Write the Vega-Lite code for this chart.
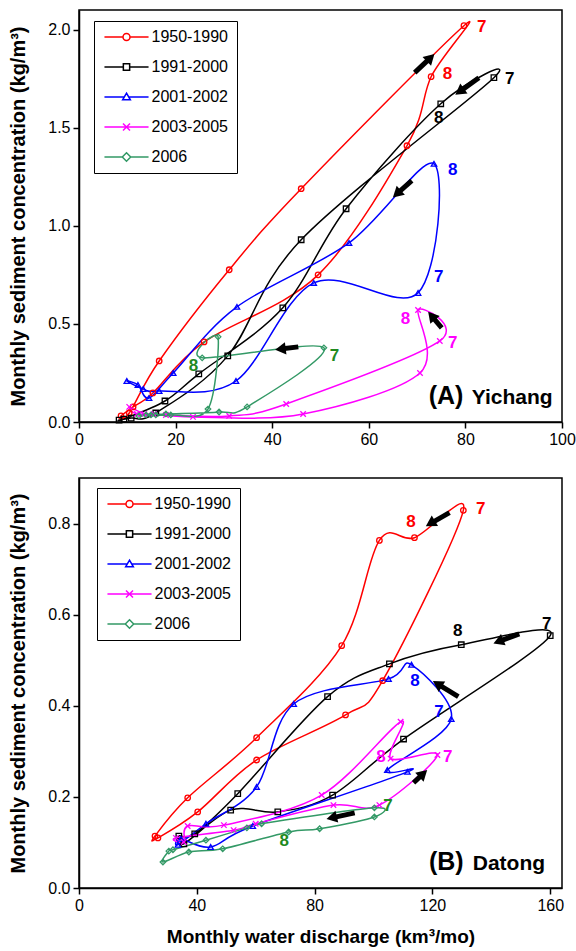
{
  "$schema": "https://vega.github.io/schema/vega-lite/v6.json",
  "padding": {"left": 8, "top": 9, "right": 0, "bottom": 0},
  "spacing": 29,
  "config": {
    "font": "Liberation Sans",
    "view": {"stroke": "black", "strokeWidth": 1.5},
    "axis": {"domainColor": "black", "domainWidth": 1.5, "tickColor": "black", "tickWidth": 1.5, "tickSize": 6, "labelColor": "black", "labelFontSize": 16, "labelFont": "Liberation Sans", "titleFont": "Liberation Sans", "titleFontSize": 20, "titleFontWeight": "bold", "titleColor": "black", "grid": false, "labelPadding": 3, "labelFlush": false, "labelOverlap": false}
  },
  "datasets": {
    "series": [
      {"station": "A", "period": "1950-1990", "month": 1, "discharge": 11.2, "concentration": 0.077},
      {"station": "A", "period": "1950-1990", "month": 2, "discharge": 8.7, "concentration": 0.031},
      {"station": "A", "period": "1950-1990", "month": 3, "discharge": 10.4, "concentration": 0.046},
      {"station": "A", "period": "1950-1990", "month": 4, "discharge": 16.6, "concentration": 0.311},
      {"station": "A", "period": "1950-1990", "month": 5, "discharge": 31.1, "concentration": 0.776},
      {"station": "A", "period": "1950-1990", "month": 6, "discharge": 46.0, "concentration": 1.189},
      {"station": "A", "period": "1950-1990", "month": 7, "discharge": 79.7, "concentration": 2.02},
      {"station": "A", "period": "1950-1990", "month": 8, "discharge": 72.9, "concentration": 1.76},
      {"station": "A", "period": "1950-1990", "month": 9, "discharge": 67.9, "concentration": 1.408},
      {"station": "A", "period": "1950-1990", "month": 10, "discharge": 49.5, "concentration": 0.75},
      {"station": "A", "period": "1950-1990", "month": 11, "discharge": 25.9, "concentration": 0.408},
      {"station": "A", "period": "1950-1990", "month": 12, "discharge": 15.3, "concentration": 0.148},
      {"station": "A", "period": "1991-2000", "month": 1, "discharge": 9.3, "concentration": 0.015},
      {"station": "A", "period": "1991-2000", "month": 2, "discharge": 8.3, "concentration": 0.01},
      {"station": "A", "period": "1991-2000", "month": 3, "discharge": 10.8, "concentration": 0.02},
      {"station": "A", "period": "1991-2000", "month": 4, "discharge": 15.9, "concentration": 0.046},
      {"station": "A", "period": "1991-2000", "month": 5, "discharge": 30.8, "concentration": 0.337},
      {"station": "A", "period": "1991-2000", "month": 6, "discharge": 46.0, "concentration": 0.929},
      {"station": "A", "period": "1991-2000", "month": 7, "discharge": 85.9, "concentration": 1.755},
      {"station": "A", "period": "1991-2000", "month": 8, "discharge": 74.9, "concentration": 1.622},
      {"station": "A", "period": "1991-2000", "month": 9, "discharge": 55.3, "concentration": 1.087},
      {"station": "A", "period": "1991-2000", "month": 10, "discharge": 42.2, "concentration": 0.582},
      {"station": "A", "period": "1991-2000", "month": 11, "discharge": 24.8, "concentration": 0.245},
      {"station": "A", "period": "1991-2000", "month": 12, "discharge": 17.8, "concentration": 0.107},
      {"station": "A", "period": "2001-2002", "month": 1, "discharge": 12.2, "concentration": 0.189},
      {"station": "A", "period": "2001-2002", "month": 2, "discharge": 9.9, "concentration": 0.209},
      {"station": "A", "period": "2001-2002", "month": 3, "discharge": 13.3, "concentration": 0.168},
      {"station": "A", "period": "2001-2002", "month": 4, "discharge": 16.6, "concentration": 0.158},
      {"station": "A", "period": "2001-2002", "month": 5, "discharge": 32.5, "concentration": 0.209},
      {"station": "A", "period": "2001-2002", "month": 6, "discharge": 48.6, "concentration": 0.709},
      {"station": "A", "period": "2001-2002", "month": 7, "discharge": 70.2, "concentration": 0.658},
      {"station": "A", "period": "2001-2002", "month": 8, "discharge": 73.5, "concentration": 1.316},
      {"station": "A", "period": "2001-2002", "month": 9, "discharge": 55.9, "concentration": 0.913},
      {"station": "A", "period": "2001-2002", "month": 10, "discharge": 32.7, "concentration": 0.587},
      {"station": "A", "period": "2001-2002", "month": 11, "discharge": 19.5, "concentration": 0.25},
      {"station": "A", "period": "2001-2002", "month": 12, "discharge": 14.5, "concentration": 0.122},
      {"station": "A", "period": "2003-2005", "month": 1, "discharge": 13.5, "concentration": 0.041},
      {"station": "A", "period": "2003-2005", "month": 2, "discharge": 10.4, "concentration": 0.077},
      {"station": "A", "period": "2003-2005", "month": 3, "discharge": 12.0, "concentration": 0.041},
      {"station": "A", "period": "2003-2005", "month": 4, "discharge": 18.0, "concentration": 0.036},
      {"station": "A", "period": "2003-2005", "month": 5, "discharge": 31.1, "concentration": 0.031},
      {"station": "A", "period": "2003-2005", "month": 6, "discharge": 42.9, "concentration": 0.092},
      {"station": "A", "period": "2003-2005", "month": 7, "discharge": 74.7, "concentration": 0.413},
      {"station": "A", "period": "2003-2005", "month": 8, "discharge": 70.2, "concentration": 0.571},
      {"station": "A", "period": "2003-2005", "month": 9, "discharge": 70.6, "concentration": 0.25},
      {"station": "A", "period": "2003-2005", "month": 10, "discharge": 46.4, "concentration": 0.041},
      {"station": "A", "period": "2003-2005", "month": 11, "discharge": 23.6, "concentration": 0.026},
      {"station": "A", "period": "2003-2005", "month": 12, "discharge": 15.5, "concentration": 0.041},
      {"station": "A", "period": "2006", "month": 1, "discharge": 13.9, "concentration": 0.036},
      {"station": "A", "period": "2006", "month": 2, "discharge": 12.4, "concentration": 0.031},
      {"station": "A", "period": "2006", "month": 3, "discharge": 14.9, "concentration": 0.036},
      {"station": "A", "period": "2006", "month": 4, "discharge": 18.0, "concentration": 0.041},
      {"station": "A", "period": "2006", "month": 5, "discharge": 29.0, "concentration": 0.051},
      {"station": "A", "period": "2006", "month": 6, "discharge": 34.8, "concentration": 0.077},
      {"station": "A", "period": "2006", "month": 7, "discharge": 50.7, "concentration": 0.378},
      {"station": "A", "period": "2006", "month": 8, "discharge": 25.5, "concentration": 0.327},
      {"station": "A", "period": "2006", "month": 9, "discharge": 28.8, "concentration": 0.434},
      {"station": "A", "period": "2006", "month": 10, "discharge": 26.7, "concentration": 0.066},
      {"station": "A", "period": "2006", "month": 11, "discharge": 19.0, "concentration": 0.036},
      {"station": "A", "period": "2006", "month": 12, "discharge": 15.9, "concentration": 0.036},
      {"station": "B", "period": "1950-1990", "month": 1, "discharge": 25.8, "concentration": 0.114},
      {"station": "B", "period": "1950-1990", "month": 2, "discharge": 26.8, "concentration": 0.11},
      {"station": "B", "period": "1950-1990", "month": 3, "discharge": 40.3, "concentration": 0.167},
      {"station": "B", "period": "1950-1990", "month": 4, "discharge": 60.3, "concentration": 0.281},
      {"station": "B", "period": "1950-1990", "month": 5, "discharge": 90.5, "concentration": 0.38},
      {"station": "B", "period": "1950-1990", "month": 6, "discharge": 103.1, "concentration": 0.455},
      {"station": "B", "period": "1950-1990", "month": 7, "discharge": 130.5, "concentration": 0.829},
      {"station": "B", "period": "1950-1990", "month": 8, "discharge": 113.9, "concentration": 0.769},
      {"station": "B", "period": "1950-1990", "month": 9, "discharge": 102.0, "concentration": 0.763},
      {"station": "B", "period": "1950-1990", "month": 10, "discharge": 89.2, "concentration": 0.532},
      {"station": "B", "period": "1950-1990", "month": 11, "discharge": 60.3, "concentration": 0.33},
      {"station": "B", "period": "1950-1990", "month": 12, "discharge": 36.9, "concentration": 0.198},
      {"station": "B", "period": "1991-2000", "month": 1, "discharge": 33.9, "concentration": 0.114},
      {"station": "B", "period": "1991-2000", "month": 2, "discharge": 35.6, "concentration": 0.097},
      {"station": "B", "period": "1991-2000", "month": 3, "discharge": 51.5, "concentration": 0.171},
      {"station": "B", "period": "1991-2000", "month": 4, "discharge": 67.5, "concentration": 0.167},
      {"station": "B", "period": "1991-2000", "month": 5, "discharge": 86.1, "concentration": 0.204},
      {"station": "B", "period": "1991-2000", "month": 6, "discharge": 110.2, "concentration": 0.327},
      {"station": "B", "period": "1991-2000", "month": 7, "discharge": 160.0, "concentration": 0.554},
      {"station": "B", "period": "1991-2000", "month": 8, "discharge": 129.8, "concentration": 0.534},
      {"station": "B", "period": "1991-2000", "month": 9, "discharge": 105.4, "concentration": 0.492},
      {"station": "B", "period": "1991-2000", "month": 10, "discharge": 84.4, "concentration": 0.42},
      {"station": "B", "period": "1991-2000", "month": 11, "discharge": 53.9, "concentration": 0.207},
      {"station": "B", "period": "1991-2000", "month": 12, "discharge": 39.3, "concentration": 0.119},
      {"station": "B", "period": "2001-2002", "month": 1, "discharge": 33.6, "concentration": 0.095},
      {"station": "B", "period": "2001-2002", "month": 2, "discharge": 34.6, "concentration": 0.108},
      {"station": "B", "period": "2001-2002", "month": 3, "discharge": 44.7, "concentration": 0.09},
      {"station": "B", "period": "2001-2002", "month": 4, "discharge": 59.0, "concentration": 0.136},
      {"station": "B", "period": "2001-2002", "month": 5, "discharge": 111.5, "concentration": 0.255},
      {"station": "B", "period": "2001-2002", "month": 6, "discharge": 104.7, "concentration": 0.259},
      {"station": "B", "period": "2001-2002", "month": 7, "discharge": 126.4, "concentration": 0.371},
      {"station": "B", "period": "2001-2002", "month": 8, "discharge": 112.9, "concentration": 0.49},
      {"station": "B", "period": "2001-2002", "month": 9, "discharge": 105.1, "concentration": 0.459},
      {"station": "B", "period": "2001-2002", "month": 10, "discharge": 72.9, "concentration": 0.404},
      {"station": "B", "period": "2001-2002", "month": 11, "discharge": 60.3, "concentration": 0.222},
      {"station": "B", "period": "2001-2002", "month": 12, "discharge": 43.1, "concentration": 0.141},
      {"station": "B", "period": "2003-2005", "month": 1, "discharge": 35.6, "concentration": 0.101},
      {"station": "B", "period": "2003-2005", "month": 2, "discharge": 32.9, "concentration": 0.11},
      {"station": "B", "period": "2003-2005", "month": 3, "discharge": 52.5, "concentration": 0.127},
      {"station": "B", "period": "2003-2005", "month": 4, "discharge": 60.0, "concentration": 0.141},
      {"station": "B", "period": "2003-2005", "month": 5, "discharge": 86.4, "concentration": 0.182},
      {"station": "B", "period": "2003-2005", "month": 6, "discharge": 102.0, "concentration": 0.182},
      {"station": "B", "period": "2003-2005", "month": 7, "discharge": 121.7, "concentration": 0.292},
      {"station": "B", "period": "2003-2005", "month": 8, "discharge": 105.8, "concentration": 0.284},
      {"station": "B", "period": "2003-2005", "month": 9, "discharge": 109.2, "concentration": 0.365},
      {"station": "B", "period": "2003-2005", "month": 10, "discharge": 82.4, "concentration": 0.204},
      {"station": "B", "period": "2003-2005", "month": 11, "discharge": 49.2, "concentration": 0.138},
      {"station": "B", "period": "2003-2005", "month": 12, "discharge": 36.9, "concentration": 0.136},
      {"station": "B", "period": "2006", "month": 1, "discharge": 30.5, "concentration": 0.081},
      {"station": "B", "period": "2006", "month": 2, "discharge": 28.5, "concentration": 0.057},
      {"station": "B", "period": "2006", "month": 3, "discharge": 37.3, "concentration": 0.079},
      {"station": "B", "period": "2006", "month": 4, "discharge": 48.8, "concentration": 0.086},
      {"station": "B", "period": "2006", "month": 5, "discharge": 71.2, "concentration": 0.123},
      {"station": "B", "period": "2006", "month": 6, "discharge": 81.7, "concentration": 0.13},
      {"station": "B", "period": "2006", "month": 7, "discharge": 100.3, "concentration": 0.156},
      {"station": "B", "period": "2006", "month": 8, "discharge": 100.3, "concentration": 0.176},
      {"station": "B", "period": "2006", "month": 9, "discharge": 62.0, "concentration": 0.141},
      {"station": "B", "period": "2006", "month": 10, "discharge": 57.0, "concentration": 0.132},
      {"station": "B", "period": "2006", "month": 11, "discharge": 43.1, "concentration": 0.105},
      {"station": "B", "period": "2006", "month": 12, "discharge": 31.9, "concentration": 0.084}
    ],
    "months": [
      {"station": "A", "period": "1950-1990", "text": "7", "discharge": 83.4, "concentration": 2.015},
      {"station": "A", "period": "1950-1990", "text": "8", "discharge": 76.3, "concentration": 1.776},
      {"station": "A", "period": "1991-2000", "text": "7", "discharge": 89.2, "concentration": 1.75},
      {"station": "A", "period": "1991-2000", "text": "8", "discharge": 74.5, "concentration": 1.551},
      {"station": "A", "period": "2001-2002", "text": "8", "discharge": 77.4, "concentration": 1.286},
      {"station": "A", "period": "2001-2002", "text": "7", "discharge": 74.5, "concentration": 0.74},
      {"station": "A", "period": "2003-2005", "text": "8", "discharge": 67.6, "concentration": 0.526},
      {"station": "A", "period": "2003-2005", "text": "7", "discharge": 77.4, "concentration": 0.403},
      {"station": "A", "period": "2006", "text": "7", "discharge": 52.9, "concentration": 0.337},
      {"station": "A", "period": "2006", "text": "8", "discharge": 23.7, "concentration": 0.286},
      {"station": "B", "period": "1950-1990", "text": "7", "discharge": 136.4, "concentration": 0.831},
      {"station": "B", "period": "1950-1990", "text": "8", "discharge": 112.7, "concentration": 0.804},
      {"station": "B", "period": "1991-2000", "text": "7", "discharge": 158.8, "concentration": 0.58},
      {"station": "B", "period": "1991-2000", "text": "8", "discharge": 128.6, "concentration": 0.565},
      {"station": "B", "period": "2001-2002", "text": "8", "discharge": 114.1, "concentration": 0.455},
      {"station": "B", "period": "2001-2002", "text": "7", "discharge": 122.2, "concentration": 0.387},
      {"station": "B", "period": "2003-2005", "text": "8", "discharge": 102.5, "concentration": 0.288},
      {"station": "B", "period": "2003-2005", "text": "7", "discharge": 125.2, "concentration": 0.288},
      {"station": "B", "period": "2006", "text": "7", "discharge": 104.9, "concentration": 0.18},
      {"station": "B", "period": "2006", "text": "8", "discharge": 69.7, "concentration": 0.103}
    ],
    "arrows": [
      {"station": "A", "discharge": 69.5, "concentration": 1.781, "discharge2": 72.8, "concentration2": 1.857, "angle": -44},
      {"station": "A", "discharge": 82.8, "concentration": 1.755, "discharge2": 78.8, "concentration2": 1.684, "angle": 144},
      {"station": "A", "discharge": 68.9, "concentration": 1.23, "discharge2": 65.8, "concentration2": 1.163, "angle": 138},
      {"station": "A", "discharge": 45.4, "concentration": 0.383, "discharge2": 41.7, "concentration2": 0.372, "angle": 173},
      {"station": "A", "discharge": 75.1, "concentration": 0.48, "discharge2": 73.0, "concentration2": 0.541, "angle": 230},
      {"station": "B", "discharge": 125.8, "concentration": 0.824, "discharge2": 119.3, "concentration2": 0.8, "angle": 149},
      {"station": "B", "discharge": 149.5, "concentration": 0.558, "discharge2": 142.4, "concentration2": 0.541, "angle": 158},
      {"station": "B", "discharge": 128.8, "concentration": 0.42, "discharge2": 121.7, "concentration2": 0.448, "angle": 212},
      {"station": "B", "discharge": 113.6, "concentration": 0.231, "discharge2": 116.9, "concentration2": 0.251, "angle": -43},
      {"station": "B", "discharge": 93.6, "concentration": 0.165, "discharge2": 85.8, "concentration2": 0.154, "angle": 167}
    ],
    "panels": [
      {"station": "A", "part": "tag", "text": "(A)", "discharge": 72.4, "concentration": 0.092},
      {"station": "A", "part": "name", "text": "Yichang", "discharge": 81.3, "concentration": 0.092},
      {"station": "B", "part": "tag", "text": "(B)", "discharge": 118.8, "concentration": 0.04},
      {"station": "B", "part": "name", "text": "Datong", "discharge": 133.7, "concentration": 0.04}
    ],
    "periods": [
      {"period": "1950-1990"}, {"period": "1991-2000"}, {"period": "2001-2002"}, {"period": "2003-2005"}, {"period": "2006"}
    ]
  },
  "vconcat": [
    {
      "width": 483,
      "height": 412,
      "resolve": {"scale": {"color": "independent", "shape": "independent", "size": "independent"}},
      "layer": [
        {
          "data": {"name": "series"},
          "transform": [{"filter": "datum.station === 'A'"}],
          "mark": {"type": "line", "interpolate": "cardinal-closed", "strokeWidth": 1.5},
          "encoding": {
            "x": {"field": "discharge", "type": "quantitative", "scale": {"domain": [0, 100], "nice": false, "zero": false}, "axis": {"values": [0, 20, 40, 60, 80, 100], "title": null}},
            "y": {"field": "concentration", "type": "quantitative", "scale": {"domain": [0, 2.1], "nice": false}, "axis": {"values": [0, 0.5, 1, 1.5, 2], "format": ".1f", "title": "Monthly sediment concentration (kg/m³)", "titlePadding": 19}},
            "color": {"field": "period", "type": "nominal", "scale": {"domain": ["1950-1990", "1991-2000", "2001-2002", "2003-2005", "2006"], "range": ["#ff0000", "#000000", "#0000ff", "#ff00ff", "#339966"]}, "legend": null},
            "order": {"field": "month", "type": "quantitative"}
          }
        },
        {
          "data": {"name": "series"},
          "transform": [{"filter": "datum.station === 'A'"}],
          "mark": {"type": "point", "filled": false, "strokeWidth": 1.3, "opacity": 1},
          "encoding": {
            "x": {"field": "discharge", "type": "quantitative"},
            "y": {"field": "concentration", "type": "quantitative"},
            "color": {"field": "period", "type": "nominal", "scale": {"domain": ["1950-1990", "1991-2000", "2001-2002", "2003-2005", "2006"], "range": ["#ff0000", "#000000", "#0000ff", "#ff00ff", "#339966"]}, "legend": null},
            "shape": {"field": "period", "type": "nominal", "scale": {"domain": ["1950-1990", "1991-2000", "2001-2002", "2003-2005", "2006"], "range": ["circle", "square", "triangle-up", "M-1,-1L1,1M-1,1L1,-1", "diamond"]}, "legend": null},
            "size": {"field": "period", "type": "ordinal", "scale": {"domain": ["1950-1990", "1991-2000", "2001-2002", "2003-2005", "2006"], "range": [30, 30, 45, 45, 55]}, "legend": null}
          }
        },
        {
          "data": {"name": "months"},
          "transform": [{"filter": "datum.station === 'A'"}],
          "mark": {"type": "text", "fontSize": 17, "fontWeight": "bold", "align": "center", "baseline": "middle"},
          "encoding": {
            "x": {"field": "discharge", "type": "quantitative"},
            "y": {"field": "concentration", "type": "quantitative"},
            "text": {"field": "text"},
            "color": {"field": "period", "type": "nominal", "scale": {"domain": ["1950-1990", "1991-2000", "2001-2002", "2003-2005", "2006"], "range": ["#ff0000", "#000000", "#0000ff", "#ff00ff", "#1f8a1f"]}, "legend": null}
          }
        },
        {
          "data": {"name": "arrows"},
          "transform": [{"filter": "datum.station === 'A'"}],
          "mark": {"type": "rule", "strokeWidth": 5, "color": "black"},
          "encoding": {
            "x": {"field": "discharge", "type": "quantitative"},
            "y": {"field": "concentration", "type": "quantitative"},
            "x2": {"field": "discharge2"},
            "y2": {"field": "concentration2"}
          }
        },
        {
          "data": {"name": "arrows"},
          "transform": [{"filter": "datum.station === 'A'"}],
          "mark": {"type": "point", "shape": "triangle-right", "filled": true, "color": "black", "size": 150, "opacity": 1},
          "encoding": {
            "x": {"field": "discharge2", "type": "quantitative"},
            "y": {"field": "concentration2", "type": "quantitative"},
            "angle": {"field": "angle", "type": "quantitative", "scale": null}
          }
        },
        {
          "data": {"name": "panels"},
          "transform": [{"filter": "datum.station === 'A' && datum.part === 'tag'"}],
          "mark": {"type": "text", "fontSize": 25, "fontWeight": "bold", "align": "left", "baseline": "alphabetic", "color": "black"},
          "encoding": {
            "x": {"field": "discharge", "type": "quantitative"},
            "y": {"field": "concentration", "type": "quantitative"},
            "text": {"field": "text"}
          }
        },
        {
          "data": {"name": "panels"},
          "transform": [{"filter": "datum.station === 'A' && datum.part === 'name'"}],
          "mark": {"type": "text", "fontSize": 21, "fontWeight": "bold", "align": "left", "baseline": "alphabetic", "color": "black"},
          "encoding": {
            "x": {"field": "discharge", "type": "quantitative"},
            "y": {"field": "concentration", "type": "quantitative"},
            "text": {"field": "text"}
          }
        },
        {
          "data": {"name": "periods"},
          "mark": {"type": "point", "filled": false, "strokeWidth": 1.5, "opacity": 1, "size": 49, "clip": true},
          "encoding": {
            "x": {"datum": -500, "type": "quantitative"},
            "y": {"datum": -5, "type": "quantitative"},
            "color": {"field": "period", "type": "nominal", "scale": {"domain": ["1950-1990", "1991-2000", "2001-2002", "2003-2005", "2006"], "range": ["#ff0000", "#000000", "#0000ff", "#ff00ff", "#339966"]}, "legend": {"title": null, "orient": "none", "legendX": 15, "legendY": 11, "padding": 8, "rowPadding": 14, "symbolSize": 49, "symbolOffset": 16.5, "labelOffset": 17, "labelFontSize": 16, "labelFont": "Liberation Sans", "labelColor": "black", "strokeColor": "black", "fillColor": "white", "symbolStrokeWidth": 1.5}},
            "shape": {"field": "period", "type": "nominal", "scale": {"domain": ["1950-1990", "1991-2000", "2001-2002", "2003-2005", "2006"], "range": ["M-6.3,0L-1,0M1,0L6.3,0M1,0A1,1,0,1,1,-1,0A1,1,0,1,1,1,0", "M-6.3,0L-0.9,0M0.9,0L6.3,0M-0.9,-0.9L0.9,-0.9L0.9,0.9L-0.9,0.9Z", "M-6.3,0L-0.7,0M0.7,0L6.3,0M0,-1.1L1.1,0.8L-1.1,0.8Z", "M-6.3,0L6.3,0M-1,-1L1,1M-1,1L1,-1", "M-6.3,0L-1.2,0M1.2,0L6.3,0M0,-1.2L1.2,0L0,1.2L-1.2,0Z"]}, "legend": {"title": null, "orient": "none", "legendX": 15, "legendY": 11, "padding": 8, "rowPadding": 14, "symbolSize": 49, "symbolOffset": 16.5, "labelOffset": 17, "labelFontSize": 16, "labelFont": "Liberation Sans", "labelColor": "black", "strokeColor": "black", "fillColor": "white", "symbolStrokeWidth": 1.5}}
          }
        }
      ]
    },
    {
      "width": 483,
      "height": 410,
      "resolve": {"scale": {"color": "independent", "shape": "independent", "size": "independent"}},
      "layer": [
        {
          "data": {"name": "series"},
          "transform": [{"filter": "datum.station === 'B'"}],
          "mark": {"type": "line", "interpolate": "cardinal-closed", "strokeWidth": 1.5},
          "encoding": {
            "x": {"field": "discharge", "type": "quantitative", "scale": {"domain": [0, 164], "nice": false, "zero": false}, "axis": {"values": [0, 40, 80, 120, 160], "title": "Monthly water discharge (km³/mo)", "titlePadding": 14, "titleFontSize": 19}},
            "y": {"field": "concentration", "type": "quantitative", "scale": {"domain": [0, 0.9], "nice": false}, "axis": {"values": [0, 0.2, 0.4, 0.6, 0.8], "format": ".1f", "title": "Monthly sediment concentration (kg/m³)", "titlePadding": 19}},
            "color": {"field": "period", "type": "nominal", "scale": {"domain": ["1950-1990", "1991-2000", "2001-2002", "2003-2005", "2006"], "range": ["#ff0000", "#000000", "#0000ff", "#ff00ff", "#339966"]}, "legend": null},
            "order": {"field": "month", "type": "quantitative"}
          }
        },
        {
          "data": {"name": "series"},
          "transform": [{"filter": "datum.station === 'B'"}],
          "mark": {"type": "point", "filled": false, "strokeWidth": 1.3, "opacity": 1},
          "encoding": {
            "x": {"field": "discharge", "type": "quantitative"},
            "y": {"field": "concentration", "type": "quantitative"},
            "color": {"field": "period", "type": "nominal", "scale": {"domain": ["1950-1990", "1991-2000", "2001-2002", "2003-2005", "2006"], "range": ["#ff0000", "#000000", "#0000ff", "#ff00ff", "#339966"]}, "legend": null},
            "shape": {"field": "period", "type": "nominal", "scale": {"domain": ["1950-1990", "1991-2000", "2001-2002", "2003-2005", "2006"], "range": ["circle", "square", "triangle-up", "M-1,-1L1,1M-1,1L1,-1", "diamond"]}, "legend": null},
            "size": {"field": "period", "type": "ordinal", "scale": {"domain": ["1950-1990", "1991-2000", "2001-2002", "2003-2005", "2006"], "range": [30, 30, 45, 45, 55]}, "legend": null}
          }
        },
        {
          "data": {"name": "months"},
          "transform": [{"filter": "datum.station === 'B'"}],
          "mark": {"type": "text", "fontSize": 17, "fontWeight": "bold", "align": "center", "baseline": "middle"},
          "encoding": {
            "x": {"field": "discharge", "type": "quantitative"},
            "y": {"field": "concentration", "type": "quantitative"},
            "text": {"field": "text"},
            "color": {"field": "period", "type": "nominal", "scale": {"domain": ["1950-1990", "1991-2000", "2001-2002", "2003-2005", "2006"], "range": ["#ff0000", "#000000", "#0000ff", "#ff00ff", "#1f8a1f"]}, "legend": null}
          }
        },
        {
          "data": {"name": "arrows"},
          "transform": [{"filter": "datum.station === 'B'"}],
          "mark": {"type": "rule", "strokeWidth": 5, "color": "black"},
          "encoding": {
            "x": {"field": "discharge", "type": "quantitative"},
            "y": {"field": "concentration", "type": "quantitative"},
            "x2": {"field": "discharge2"},
            "y2": {"field": "concentration2"}
          }
        },
        {
          "data": {"name": "arrows"},
          "transform": [{"filter": "datum.station === 'B'"}],
          "mark": {"type": "point", "shape": "triangle-right", "filled": true, "color": "black", "size": 150, "opacity": 1},
          "encoding": {
            "x": {"field": "discharge2", "type": "quantitative"},
            "y": {"field": "concentration2", "type": "quantitative"},
            "angle": {"field": "angle", "type": "quantitative", "scale": null}
          }
        },
        {
          "data": {"name": "panels"},
          "transform": [{"filter": "datum.station === 'B' && datum.part === 'tag'"}],
          "mark": {"type": "text", "fontSize": 25, "fontWeight": "bold", "align": "left", "baseline": "alphabetic", "color": "black"},
          "encoding": {
            "x": {"field": "discharge", "type": "quantitative"},
            "y": {"field": "concentration", "type": "quantitative"},
            "text": {"field": "text"}
          }
        },
        {
          "data": {"name": "panels"},
          "transform": [{"filter": "datum.station === 'B' && datum.part === 'name'"}],
          "mark": {"type": "text", "fontSize": 21, "fontWeight": "bold", "align": "left", "baseline": "alphabetic", "color": "black"},
          "encoding": {
            "x": {"field": "discharge", "type": "quantitative"},
            "y": {"field": "concentration", "type": "quantitative"},
            "text": {"field": "text"}
          }
        },
        {
          "data": {"name": "periods"},
          "mark": {"type": "point", "filled": false, "strokeWidth": 1.5, "opacity": 1, "size": 49, "clip": true},
          "encoding": {
            "x": {"datum": -500, "type": "quantitative"},
            "y": {"datum": -5, "type": "quantitative"},
            "color": {"field": "period", "type": "nominal", "scale": {"domain": ["1950-1990", "1991-2000", "2001-2002", "2003-2005", "2006"], "range": ["#ff0000", "#000000", "#0000ff", "#ff00ff", "#339966"]}, "legend": {"title": null, "orient": "none", "legendX": 18, "legendY": 10, "padding": 8, "rowPadding": 14, "symbolSize": 49, "symbolOffset": 16.5, "labelOffset": 17, "labelFontSize": 16, "labelFont": "Liberation Sans", "labelColor": "black", "strokeColor": "black", "fillColor": "white", "symbolStrokeWidth": 1.5}},
            "shape": {"field": "period", "type": "nominal", "scale": {"domain": ["1950-1990", "1991-2000", "2001-2002", "2003-2005", "2006"], "range": ["M-6.3,0L-1,0M1,0L6.3,0M1,0A1,1,0,1,1,-1,0A1,1,0,1,1,1,0", "M-6.3,0L-0.9,0M0.9,0L6.3,0M-0.9,-0.9L0.9,-0.9L0.9,0.9L-0.9,0.9Z", "M-6.3,0L-0.7,0M0.7,0L6.3,0M0,-1.1L1.1,0.8L-1.1,0.8Z", "M-6.3,0L6.3,0M-1,-1L1,1M-1,1L1,-1", "M-6.3,0L-1.2,0M1.2,0L6.3,0M0,-1.2L1.2,0L0,1.2L-1.2,0Z"]}, "legend": {"title": null, "orient": "none", "legendX": 18, "legendY": 10, "padding": 8, "rowPadding": 14, "symbolSize": 49, "symbolOffset": 16.5, "labelOffset": 17, "labelFontSize": 16, "labelFont": "Liberation Sans", "labelColor": "black", "strokeColor": "black", "fillColor": "white", "symbolStrokeWidth": 1.5}}
          }
        }
      ]
    }
  ],
  "resolve": {"scale": {"x": "independent", "y": "independent", "color": "independent", "shape": "independent", "size": "independent"}}
}
